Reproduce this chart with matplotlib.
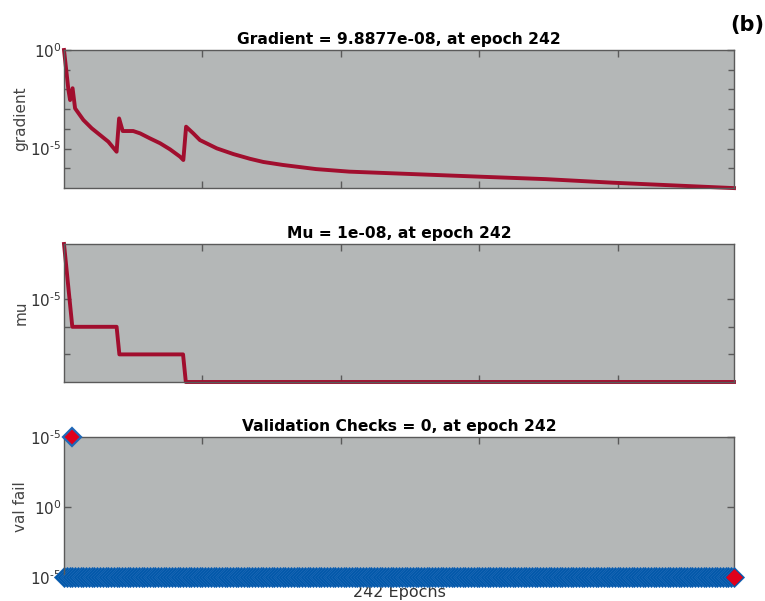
import matplotlib.pyplot as plt
import numpy as np
from matplotlib.ticker import FixedLocator, NullFormatter

plt.rcParams['font.family'] = ['DejaVu Sans']
plt.rcParams['mathtext.fontset'] = 'dejavusans'

# gradient (epoch, log10 value)
grad_epochs = [0, 1.6, 2.2, 3.1, 4, 7, 10, 13, 16, 19, 19.9, 21.2, 25, 27.5,
               31, 34.7, 38.3, 41.9, 43.1, 44.1, 46.7, 49.1, 55.2, 61.2, 67.2,
               72, 79, 91, 103, 127, 151, 174, 198, 222, 242]
grad_log = [0, -2.03, -2.54, -1.94, -2.96, -3.55, -3.97, -4.31, -4.65, -5.16,
            -3.47, -4.11, -4.11, -4.23, -4.48, -4.73, -5.04, -5.41, -5.58,
            -3.89, -4.23, -4.57, -4.99, -5.28, -5.52, -5.68, -5.83, -6.04,
            -6.17, -6.3, -6.43, -6.55, -6.73, -6.88, -7.005]
grad_vals = 10.0 ** np.array(grad_log)

# mu steps
mu_epochs = [0, 3, 19, 20, 43, 44, 242]
mu_vals = [1e-3, 1e-6, 1e-6, 1e-7, 1e-7, 1e-8, 1e-8]

# validation fails (0 at every epoch)
val_epochs = np.arange(0, 243)
val_vals = np.zeros(243)
mark_epochs = [3, 3, 242]
mark_vals = [1, 0, 0]

n_epochs = 242
line_col = '#A10E2E'
bg = '#B4B7B7'
spine_col = '#5a5a5a'
red = '#E0001B'
blue = '#0057A8'

fig = plt.figure(figsize=(7.65, 6.01), dpi=100)
L, W = 64 / 765, 670 / 765
ax1 = fig.add_axes([L, 1 - 188 / 601, W, 138 / 601])
ax2 = fig.add_axes([L, 1 - 382 / 601, W, 138 / 601])
ax3 = fig.add_axes([L, 1 - 577 / 601, W, 140 / 601])

for ax in (ax1, ax2, ax3):
    ax.set_facecolor(bg)
    ax.set_xlim(0, n_epochs)
    ax.xaxis.set_major_locator(FixedLocator([50, 100, 150, 200]))
    ax.set_xticklabels([])
    ax.tick_params(direction='in', top=True, right=True, length=5, width=1,
                   color=spine_col, labelsize=11, labelcolor='#333333', pad=2)
    ax.tick_params(which='minor', direction='in', right=True, length=4,
                   width=1, color=spine_col)
    for s in ax.spines.values():
        s.set_color(spine_col)
        s.set_linewidth(1)

sup = lambda e: '$\\mathregular{10^{' + e + '}}$'
m5 = sup('\u2010' + '5')

# gradient panel
ax1.semilogy(grad_epochs, grad_vals, color=line_col, lw=2.8, clip_on=False)
ax1.set_ylim(1e-7, 1)
ax1.yaxis.set_major_locator(FixedLocator([1e-5, 1]))
ax1.set_yticklabels([m5, sup('0')])
ax1.yaxis.set_minor_locator(FixedLocator([1e-6, 1e-4, 1e-3, 1e-2, 1e-1]))
ax1.yaxis.set_minor_formatter(NullFormatter())
ax1.set_ylabel('gradient', fontsize=11, color='#444444')
ax1.set_title('Gradient = 9.8877e-08, at epoch 242', fontsize=11.2,
              fontweight='bold', pad=4)

# mu panel
ax2.semilogy(mu_epochs, mu_vals, color=line_col, lw=2.8, clip_on=False)
ax2.set_ylim(1e-8, 1e-3)
ax2.yaxis.set_major_locator(FixedLocator([1e-5]))
ax2.set_yticklabels([m5])
ax2.yaxis.set_minor_locator(FixedLocator([1e-6, 1e-7]))
ax2.yaxis.set_minor_formatter(NullFormatter())
ax2.set_ylabel('mu', fontsize=11, color='#444444')
ax2.set_title('Mu = 1e-08, at epoch 242', fontsize=11.2, fontweight='bold',
              pad=4)

# validation checks panel
ax3.plot(val_epochs[:3], val_vals[:3], 'D', color=blue, ms=10, mec='#1a66b5',
         mew=0.6, clip_on=False, zorder=2)
ax3.plot(mark_epochs[1], mark_vals[1], 'D', color=red, ms=8, mec=red,
         mew=0.5, clip_on=False, zorder=3)
ax3.plot(val_epochs[3:], val_vals[3:], 'D', color=blue, ms=10, mec='#1a66b5',
         mew=0.6, clip_on=False, zorder=4)
ax3.plot(mark_epochs[0], mark_vals[0], 'D', color=red, ms=9.5, mec='#1f68b8',
         mew=1.6, clip_on=False, zorder=5)
ax3.plot(mark_epochs[2], mark_vals[2], 'D', color=red, ms=8, mec=red,
         mew=0.5, clip_on=False, zorder=5)
ax3.set_ylim(0, 1)
ax3.set_yticks([0, 0.5, 1])
ax3.set_yticklabels([m5, sup('0'), m5])
ax3.set_ylabel('val fail', fontsize=11, color='#444444')
ax3.set_title('Validation Checks = 0, at epoch 242', fontsize=11.2,
              fontweight='bold', pad=4)
ax3.set_xlabel('242 Epochs', fontsize=11.5, color='#333333', labelpad=4)

for ax in (ax1, ax2, ax3):
    ax.yaxis.set_label_coords(-43 / 670, 0.5)
    ax.yaxis.label.set_va('center')

fig.text(764 / 765, 1 - 25 / 601, '(b)', fontsize=15, fontweight='bold',
         ha='right', va='center')

fig.savefig('out.png', dpi=100)
